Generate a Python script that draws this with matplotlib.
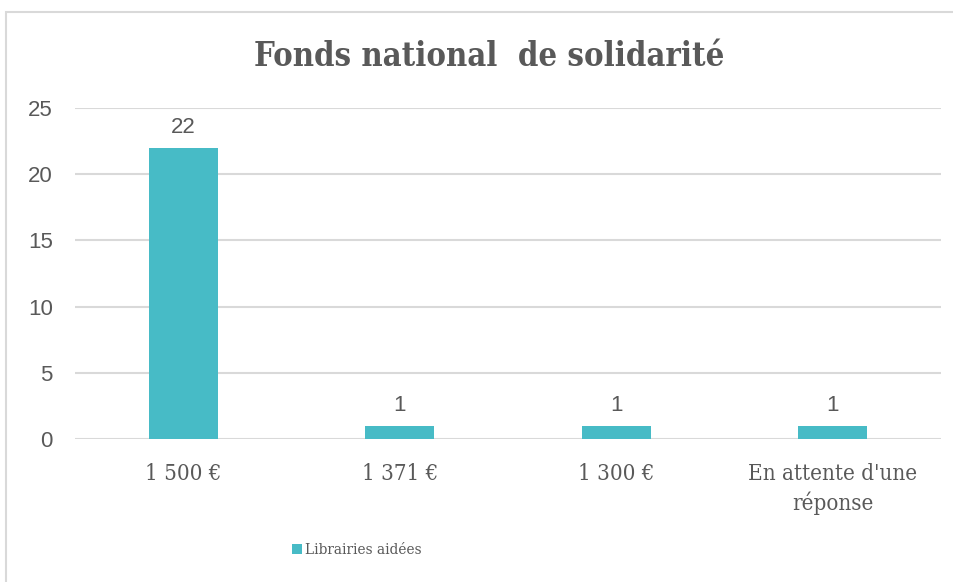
import matplotlib.pyplot as plt
from matplotlib.patches import Rectangle

categories = ["1 500 €", "1 371 €", "1 300 €", "En attente d'une\nréponse"]
values = [22, 1, 1, 1]
series_name = "Librairies aidées"
title = "Fonds national  de solidarité"

bar_color = "#47BBC6"
text_color = "#595959"
grid_color = "#D9D9D9"

W, H = 954, 582
fig = plt.figure(figsize=(W / 100, H / 100), dpi=100)

# outer chart border (cropped at right/bottom)
fig.patches.append(Rectangle((6 / W, -0.05), 1.1, (H - 12) / H + 0.05,
                             transform=fig.transFigure, fill=False,
                             edgecolor="#D9D9D9", linewidth=1.5))

ax = fig.add_axes([75 / W, (H - 439) / H, (941 - 75) / W, (439 - 108) / H])
x = list(range(len(categories)))
bars = ax.bar(x, values, width=0.32, color=bar_color, zorder=3)

ax.set_xlim(-0.5, len(categories) - 0.5)
ax.set_ylim(0, 25)
ax.set_yticks([0, 5, 10, 15, 20, 25])
ax.yaxis.grid(True, color=grid_color, linewidth=1.5, zorder=0)
for s in ax.spines.values():
    s.set_visible(False)
ax.tick_params(length=0)
ax.tick_params(axis="y", labelsize=16, labelcolor=text_color, pad=16)
for lab in ax.get_yticklabels():
    lab.set_family("Liberation Sans")
ax.set_xticks(x)
ax.set_xticklabels(categories, family="DejaVu Serif", stretch="condensed",
                   fontsize=16, color=text_color, linespacing=1.35)
ax.tick_params(axis="x", pad=17)

for b, v in zip(bars, values):
    ax.annotate(str(v), (b.get_x() + b.get_width() / 2, v), xytext=(0, 7),
                textcoords="offset points", ha="center", va="bottom",
                fontsize=16, color=text_color, family="Liberation Sans")

fig.text(489 / W, 1 - 57 / H, title, ha="center", va="center",
         fontsize=23.5, fontweight="bold", color=text_color,
         family="DejaVu Serif", stretch="condensed")

leg = fig.legend([bars[0]], [series_name], loc="center",
                 bbox_to_anchor=(357 / W, 1 - 550 / H), frameon=False,
                 handlelength=0.65, handleheight=0.65, handletextpad=0.2,
                 prop={"family": "DejaVu Serif", "stretch": "condensed",
                       "size": 11})
for t in leg.get_texts():
    t.set_color(text_color)

fig.savefig("out.png", dpi=100)
